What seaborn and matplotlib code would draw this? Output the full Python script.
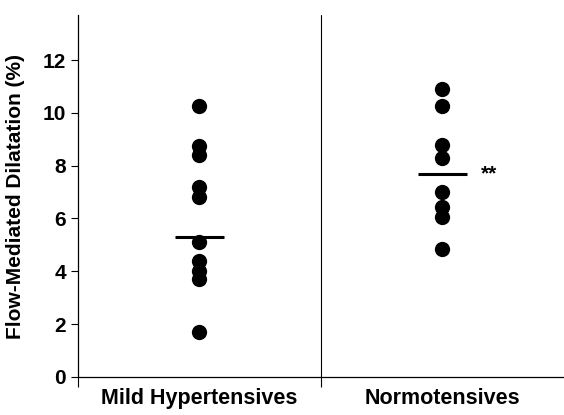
import seaborn as sns
import matplotlib.pyplot as plt
import pandas as pd

groups = ['Mild Hypertensives', 'Normotensives']
mild = [10.25, 8.75, 8.4, 7.2, 6.8, 5.1, 4.4, 4.0, 3.7, 1.7]
normo = [10.9, 10.25, 8.8, 8.3, 7.0, 6.45, 6.05, 4.85]
means = [5.3, 7.7]
yticks = [0, 2, 4, 6, 8, 10, 12]

df = pd.DataFrame({'group': [groups[0]] * len(mild) + [groups[1]] * len(normo),
                   'fmd': mild + normo})

sns.set_style("ticks", {'text.color': 'black', 'axes.labelcolor': 'black',
                        'xtick.color': 'black', 'ytick.color': 'black',
                        'axes.edgecolor': 'black'})
plt.rcParams['font.family'] = ['Liberation Sans', 'DejaVu Sans']

fig = plt.figure(figsize=(5.64, 4.15), dpi=100)
ax = fig.add_axes([0.138, 0.0916, 0.862, 0.872])

sns.stripplot(data=df, x='group', y='fmd', order=groups, jitter=False,
              color='black', size=11, linewidth=0, ax=ax)

# mean bars
for i, m in enumerate(means):
    ax.plot([i - 0.1, i + 0.1], [m, m], color='black', lw=2.2, solid_capstyle='butt')
ax.text(1.16, means[1], '**', ha='left', va='center', fontsize=15, fontweight='bold')

ax.axvline(0.5, color='black', lw=0.8)
ax.set_xlim(-0.5, 1.5)
ax.set_ylim(0, 13.7)
ax.set_yticks(yticks)
ax.set_xticks([-0.5, 0.5], minor=True)
ax.tick_params(axis='x', which='major', length=0, pad=8, labelsize=15.5)
ax.tick_params(axis='x', which='minor', length=7, width=0.8, direction='out')
ax.tick_params(axis='y', length=5, width=0.8, labelsize=15)
for lab in ax.get_xticklabels() + ax.get_yticklabels():
    lab.set_fontweight('bold')

ax.set_xlabel('')
ax.set_ylabel('Flow-Mediated Dilatation (%)', fontsize=15, fontweight='bold')
ax.yaxis.set_label_coords(-0.108, 0.5)
sns.despine(ax=ax)
for s in ['left', 'bottom']:
    ax.spines[s].set_linewidth(0.9)

fig.savefig('out.png', dpi=100)
